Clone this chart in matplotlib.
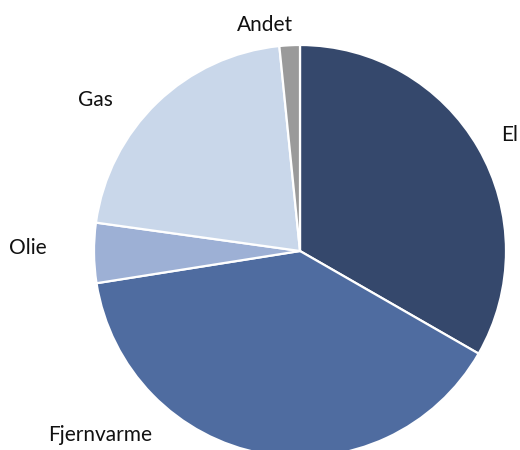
import matplotlib
matplotlib.use("Agg")
import matplotlib.pyplot as plt

plt.rcParams["font.family"] = ["Lato", "DejaVu Sans"]

labels = ["El", "Fjernvarme", "Olie", "Gas", "Andet"]
shares = [33.3, 39.2, 4.7, 21.2, 1.6]
colors = ["#35486c", "#4f6ca0", "#9db0d5", "#c9d7ea", "#9a9a9a"]

# label anchors in pixel space (y measured from the bottom)
label_xy = [(510, 315), (100, 15), (28, 202), (95, 350), (265, 425)]

fig = plt.figure(figsize=(5.2, 4.5), dpi=100)
ax = fig.add_axes([0, 0, 1, 1])
ax.pie(
    shares,
    colors=colors,
    startangle=90,
    counterclock=False,
    center=(300, 199),
    radius=206,
    wedgeprops={"edgecolor": "white", "linewidth": 1.6},
    frame=True,
)
for name, (x, y) in zip(labels, label_xy):
    ax.text(x, y, name, ha="center", va="center", fontsize=15, color="#111111")

ax.set_xlim(0, 520)
ax.set_ylim(0, 450)
ax.set_aspect("equal")
ax.axis("off")
fig.savefig("out.png", dpi=100)
